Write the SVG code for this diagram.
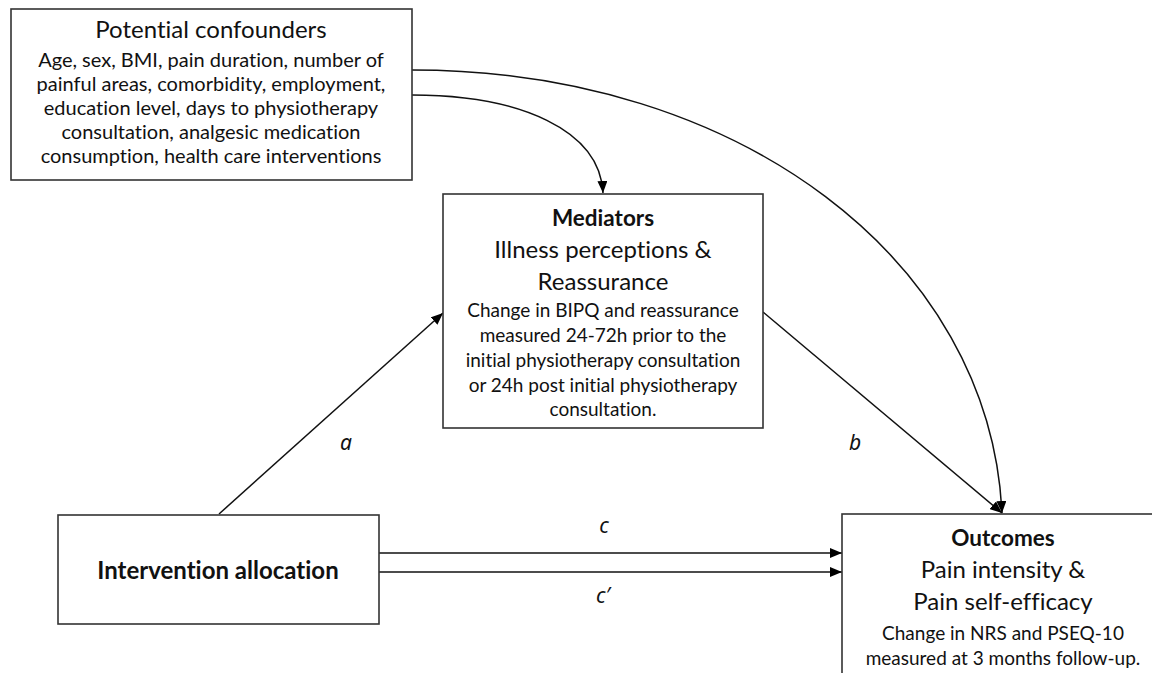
<svg xmlns="http://www.w3.org/2000/svg" width="1152" height="673" viewBox="0 0 1152 673">
<style>
.box{fill:#fff;stroke:#333;stroke-width:1.6}
.t{font-family:Lato,"Liberation Sans",sans-serif;fill:#111;text-anchor:middle;font-variant-ligatures:none}
.big{font-size:24px}
.sm{font-size:19px}
.cf{font-size:20px}
.bold{font-weight:bold;font-size:22.5px}
.ia{font-weight:bold;font-size:24px}
.lab{font-family:"Noto Sans","Liberation Sans",sans-serif;font-style:italic;font-size:21px;fill:#111;text-anchor:middle}
.ln{fill:none;stroke:#111;stroke-width:1.5}
</style>
<defs>
<marker id="ah" viewBox="0 0 12 10" refX="12" refY="5" markerWidth="12" markerHeight="10" markerUnits="userSpaceOnUse" orient="auto">
<path d="M0,0 L12,5 L0,10 z" fill="#000"/>
</marker>
</defs>
<rect width="1152" height="673" fill="#fff"/>
<g id="connectors">
<path class="ln" d="M412,95 C520,95 600,130 603,193" marker-end="url(#ah)"/>
<path class="ln" d="M412,70 C740,70 990,260 1002,513" marker-end="url(#ah)"/>
<path class="ln" d="M763,312 L1002,513" marker-end="url(#ah)"/>
<path class="ln" d="M219,514 L443,313" marker-end="url(#ah)"/>
<path class="ln" d="M379,553 L842,553" marker-end="url(#ah)"/>
<path class="ln" d="M379,572 L842,572" marker-end="url(#ah)"/>
<text class="lab" x="346" y="450">a</text>
<text class="lab" x="855" y="450">b</text>
<text class="lab" x="604" y="533">c</text>
<text class="lab" x="603" y="603">c′</text>
</g>
<g id="confounders">
<rect class="box" x="11" y="9" width="401" height="171"/>
<text class="t big" x="211" y="38">Potential confounders</text>
<text class="t cf" x="211" y="67">Age, sex, BMI, pain duration, number of</text>
<text class="t cf" x="211" y="91">painful areas, comorbidity, employment,</text>
<text class="t cf" x="211" y="115">education level, days to physiotherapy</text>
<text class="t cf" x="211" y="139">consultation, analgesic medication</text>
<text class="t cf" x="211" y="163">consumption, health care interventions</text>
</g>
<g id="mediators">
<rect class="box" x="443" y="194" width="320" height="234"/>
<text class="t bold" x="603" y="226">Mediators</text>
<text class="t big" x="603" y="258">Illness perceptions &amp;</text>
<text class="t big" x="603" y="290">Reassurance</text>
<text class="t sm" x="603" y="317">Change in BIPQ and reassurance</text>
<text class="t sm" x="603" y="342">measured 24-72h prior to the</text>
<text class="t sm" x="603" y="367">initial physiotherapy consultation</text>
<text class="t sm" x="603" y="392">or 24h post initial physiotherapy</text>
<text class="t sm" x="603" y="416">consultation.</text>
</g>
<g id="intervention">
<rect class="box" x="58" y="515" width="321" height="109"/>
<text class="t ia" x="218" y="579">Intervention allocation</text>
</g>
<g id="outcomes">
<rect class="box" x="842" y="514" width="330" height="180"/>
<text class="t bold" x="1003" y="546">Outcomes</text>
<text class="t big" x="1003" y="578">Pain intensity &amp;</text>
<text class="t big" x="1003" y="610">Pain self-efficacy</text>
<text class="t sm" x="1003" y="640">Change in NRS and PSEQ-10</text>
<text class="t sm" x="1003" y="665">measured at 3 months follow-up.</text>
</g>
</svg>
